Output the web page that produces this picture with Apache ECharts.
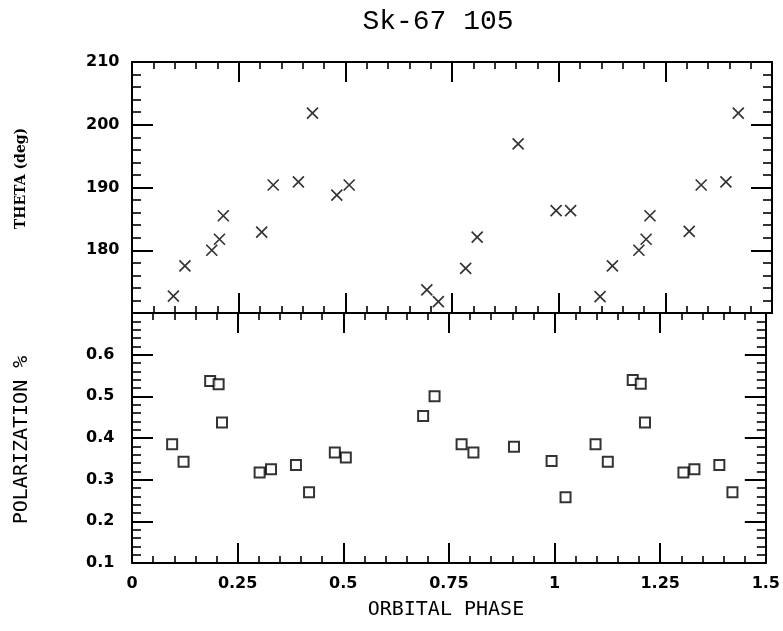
<!DOCTYPE html>
<html>
<head>
<meta charset="utf-8">
<script src="https://cdn.jsdelivr.net/npm/echarts@6/dist/echarts.min.js"></script>
<style>html,body{margin:0;padding:0;background:#fff}#c{width:783px;height:631px}</style>
</head>
<body>
<div id="c"></div>
<script>
// ---- data ----
const titleText = 'Sk-67 105';
const xName = 'ORBITAL PHASE';
const thetaName = 'THETA (deg)';
const polName = 'POLARIZATION %';

const thetaPhase = [0.097, 0.124, 0.187, 0.205, 0.214, 0.304, 0.331, 0.390, 0.423, 0.480, 0.509,
  0.691, 0.718, 0.782, 0.809, 0.905, 0.994, 1.028,
  1.097, 1.126, 1.188, 1.205, 1.214, 1.306, 1.334, 1.392, 1.421];
const thetaVal = [172.7, 177.5, 180.0, 181.75, 185.5, 182.9, 190.4, 190.9, 201.85, 188.8, 190.4,
  173.7, 171.8, 177.1, 182.1, 196.95, 186.3, 186.3,
  172.6, 177.5, 180.0, 181.75, 185.5, 183.0, 190.4, 190.9, 201.85];

const polPhase = [0.095, 0.122, 0.185, 0.205, 0.213, 0.302, 0.329, 0.388, 0.419, 0.480, 0.506,
  0.689, 0.716, 0.780, 0.808, 0.904, 0.993, 1.026,
  1.097, 1.126, 1.185, 1.204, 1.214, 1.305, 1.331, 1.390, 1.421];
const polVal = [0.385, 0.343, 0.537, 0.529, 0.437, 0.317, 0.325, 0.335, 0.270, 0.365, 0.353,
  0.453, 0.500, 0.385, 0.365, 0.379, 0.345, 0.258,
  0.385, 0.343, 0.539, 0.530, 0.437, 0.317, 0.325, 0.335, 0.270];

const phaseTicks = ['0', '0.25', '0.5', '0.75', '1', '1.25', '1.5'];
const thetaTicks = ['180', '190', '200', '210'];
const polTicks = ['0.1', '0.2', '0.3', '0.4', '0.5', '0.6'];

// ---- chart ----
const chart = echarts.init(document.getElementById('c'), null, {renderer: 'canvas'});
const black = '#000';
const G = [{left: 132, top: 62, width: 640, height: 251}, {left: 132, top: 313, width: 640, height: 250}];

function tickFmt(list) {
  return function (v) {
    const s = String(+(+v).toFixed(3));
    return list.indexOf(s) >= 0 ? s : '';
  };
}
function xAx(grid, pos, showLabel, name) {
  return {
    type: 'value', gridIndex: grid, position: pos, min: 0, max: 1.5, interval: 0.25,
    axisLine: {show: true, onZero: false, lineStyle: {color: black, width: 2}},
    axisTick: {show: true, inside: true, length: 20, lineStyle: {color: black, width: 2}},
    minorTick: {show: true, splitNumber: 5, length: 7, lineStyle: {color: black, width: 1.6}},
    splitLine: {show: false}, minorSplitLine: {show: false},
    axisLabel: {show: showLabel, margin: 13, color: black, fontFamily: 'DejaVu Sans', fontWeight: 'bold', fontSize: 16,
      formatter: tickFmt(phaseTicks)},
    name: name || '', nameLocation: 'middle', nameGap: 37,
    nameTextStyle: {color: black, fontFamily: 'DejaVu Sans Mono', fontSize: 20, padding: [0, 6, 0, 0]}
  };
}
function yAx(grid, pos, min, max, interval, showLabel, ticks, name, nameStyle, gap) {
  return {
    type: 'value', gridIndex: grid, position: pos, min: min, max: max, interval: interval,
    axisLine: {show: true, onZero: false, lineStyle: {color: black, width: 2}},
    axisTick: {show: true, inside: true, length: 21, lineStyle: {color: black, width: 2}},
    minorTick: {show: true, splitNumber: 5, length: 9, lineStyle: {color: black, width: 1.6}},
    splitLine: {show: false}, minorSplitLine: {show: false},
    axisLabel: {show: showLabel, margin: 46, align: 'left', color: black, fontFamily: 'DejaVu Sans', fontWeight: 'bold', fontSize: 16,
      formatter: tickFmt(ticks || [])},
    name: name || '', nameLocation: 'middle', nameGap: gap || 0, nameRotate: 90,
    nameTextStyle: nameStyle || {}
  };
}

const option = {
  animation: false,
  backgroundColor: '#fff',
  title: {
    text: titleText, left: 433, top: 3, textAlign: 'center',
    textStyle: {fontFamily: 'Liberation Mono', fontWeight: 'normal', fontSize: 28, color: black}
  },
  grid: G,
  xAxis: [
    xAx(0, 'bottom', false),
    xAx(0, 'top', false),
    xAx(1, 'bottom', true, xName),
    xAx(1, 'top', false)
  ],
  yAxis: [
    yAx(0, 'left', 170, 210, 10, true, thetaTicks, thetaName,
      {color: black, fontFamily: 'DejaVu Serif', fontWeight: 'bold', fontSize: 14, padding: [0, 0, 0, 18]}, 104),
    yAx(0, 'right', 170, 210, 10, false),
    yAx(1, 'left', 0.1, 0.7, 0.1, true, polTicks, polName,
      {color: black, fontFamily: 'DejaVu Sans Mono', fontSize: 20, padding: [0, 4, 0, 0]}, 100),
    yAx(1, 'right', 0.1, 0.7, 0.1, false)
  ],
  series: [
    {
      type: 'scatter', xAxisIndex: 0, yAxisIndex: 0,
      data: thetaPhase.map((p, i) => [p, thetaVal[i]]),
      symbol: 'path://M0,0L10,10M10,0L0,10', symbolSize: 11,
      itemStyle: {color: 'none', borderColor: black, borderWidth: 1.7},
      emphasis: {disabled: true}
    },
    {
      type: 'scatter', xAxisIndex: 2, yAxisIndex: 2,
      data: polPhase.map((p, i) => [p, polVal[i]]),
      symbol: 'rect', symbolSize: 10,
      itemStyle: {color: '#fff', borderColor: black, borderWidth: 2},
      emphasis: {disabled: true}
    }
  ]
};
chart.setOption(option);
</script>
</body>
</html>
